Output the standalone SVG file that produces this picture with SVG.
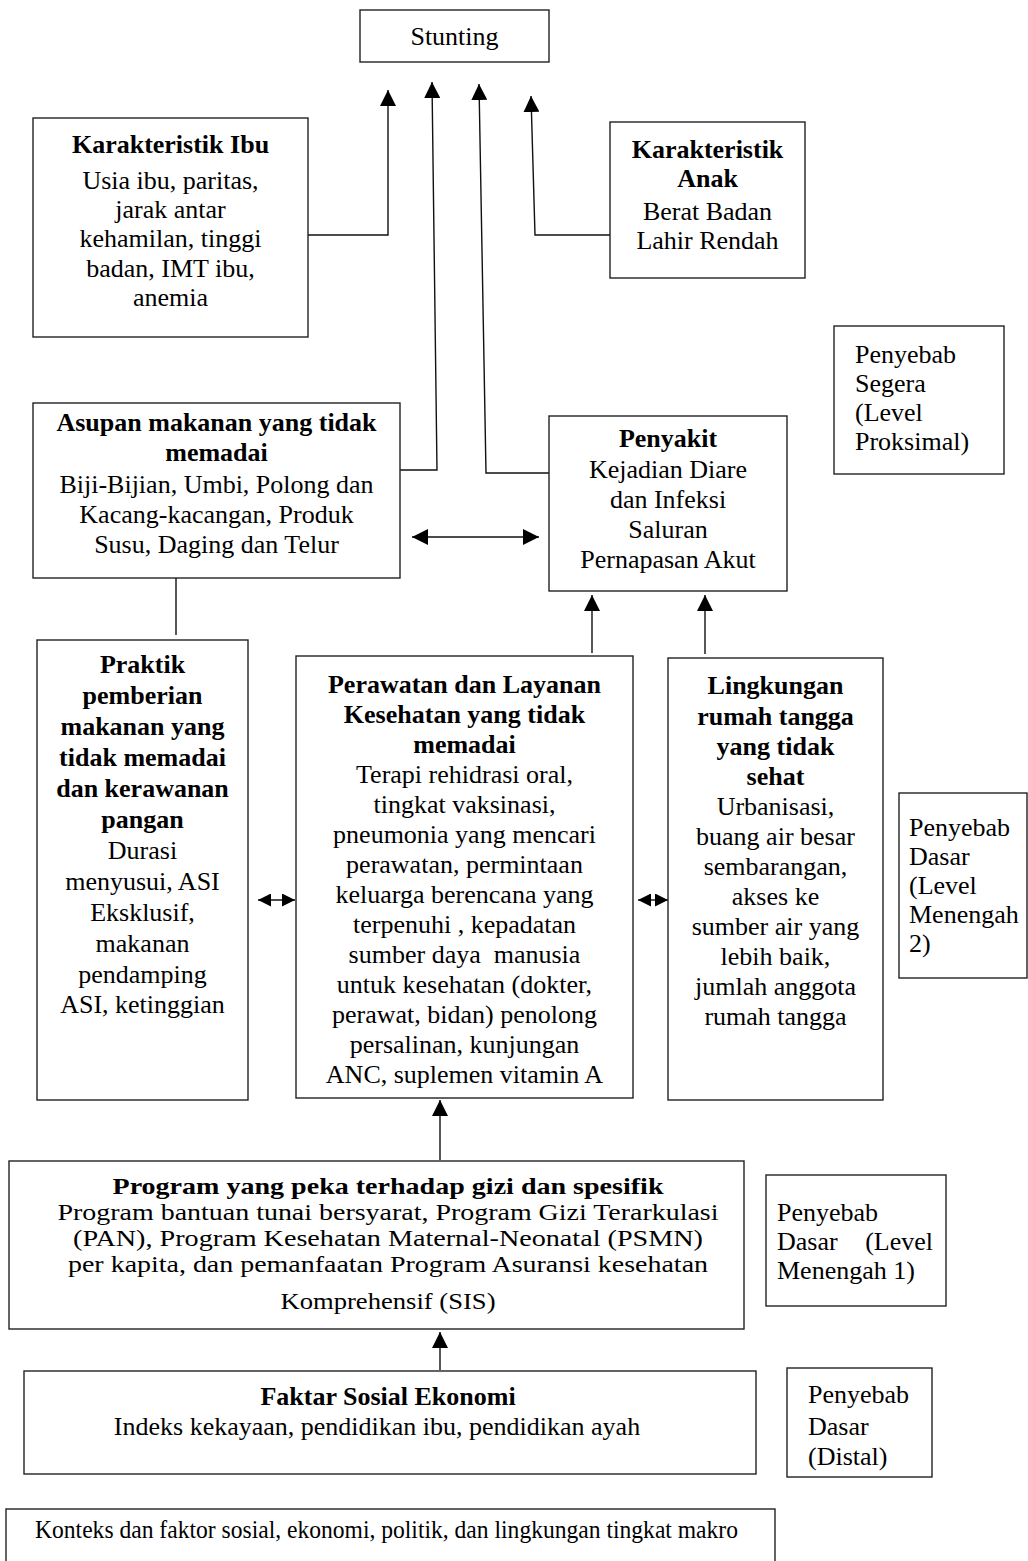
<svg xmlns="http://www.w3.org/2000/svg" width="1028" height="1561" viewBox="0 0 1028 1561">
<defs>
<marker id="ah" viewBox="0 0 16 16" refX="16" refY="8" markerWidth="16" markerHeight="16" markerUnits="userSpaceOnUse" orient="auto-start-reverse">
<path d="M0,0 L16,8 L0,16 z" fill="#000"/>
</marker>
<marker id="ahs" viewBox="0 0 13 13" refX="13" refY="6.5" markerWidth="13" markerHeight="13" markerUnits="userSpaceOnUse" orient="auto-start-reverse">
<path d="M0,0 L13,6.5 L0,13 z" fill="#000"/>
</marker>
<clipPath id="clipProg"><rect x="9" y="1161" width="735" height="153"/></clipPath>
</defs>
<style>
rect.box{fill:#fff;stroke:#222;stroke-width:1.4}
text{font-family:"Liberation Serif","Times New Roman",serif;font-size:26px;fill:#000}
.c{text-anchor:middle}
.b{font-weight:bold}
.sm{font-size:23px}
.conn{fill:none;stroke:#111;stroke-width:1.4}
</style>
<rect width="1028" height="1561" fill="#fff"/>

<g id="connectors">
<path class="conn" d="M308,235 H388 V90" marker-end="url(#ah)"/>
<path class="conn" d="M400,470 H437 L432,82" marker-end="url(#ah)"/>
<path class="conn" d="M549,473 H486 L479,84" marker-end="url(#ah)"/>
<path class="conn" d="M610,235 H535 L531,96" marker-end="url(#ah)"/>
<path class="conn" d="M412,537 H539" marker-start="url(#ah)" marker-end="url(#ah)"/>
<path class="conn" d="M176,635 V578"/>
<path class="conn" d="M592,653 V595" marker-end="url(#ah)"/>
<path class="conn" d="M705,654 V595" marker-end="url(#ah)"/>
<path class="conn" d="M258,900 H295" marker-start="url(#ahs)" marker-end="url(#ahs)"/>
<path class="conn" d="M638,900 H668" marker-start="url(#ahs)" marker-end="url(#ahs)"/>
<path class="conn" d="M440,1160 V1100" marker-end="url(#ah)"/>
<path class="conn" d="M440,1370 V1332" marker-end="url(#ah)"/>
</g>

<g id="stunting">
<rect class="box" x="360" y="10" width="189" height="52"/>
<text class="c" x="454.5" y="45">Stunting</text>
</g>

<g id="karakteristik-ibu">
<rect class="box" x="33" y="118" width="275" height="219"/>
<text class="c b" x="170.5" y="153">Karakteristik Ibu</text>
<text class="c" x="170.5" y="189">Usia ibu, paritas,</text>
<text class="c" x="170.5" y="218">jarak antar</text>
<text class="c" x="170.5" y="247">kehamilan, tinggi</text>
<text class="c" x="170.5" y="277">badan, IMT ibu,</text>
<text class="c" x="170.5" y="306">anemia</text>
</g>

<g id="karakteristik-anak">
<rect class="box" x="610" y="122" width="195" height="156"/>
<text class="c b" x="707.5" y="158">Karakteristik</text>
<text class="c b" x="707.5" y="187">Anak</text>
<text class="c" x="707.5" y="220">Berat Badan</text>
<text class="c" x="707.5" y="249">Lahir Rendah</text>
</g>

<g id="penyebab-segera">
<rect class="box" x="834" y="326" width="170" height="148"/>
<text x="855" y="363">Penyebab</text>
<text x="855" y="392">Segera</text>
<text x="855" y="421">(Level</text>
<text x="855" y="450">Proksimal)</text>
</g>

<g id="asupan">
<rect class="box" x="33" y="403" width="367" height="175"/>
<text class="c b" x="216.5" y="431">Asupan makanan yang tidak</text>
<text class="c b" x="216.5" y="461">memadai</text>
<text class="c" x="216.5" y="493">Biji-Bijian, Umbi, Polong dan</text>
<text class="c" x="216.5" y="523">Kacang-kacangan, Produk</text>
<text class="c" x="216.5" y="553">Susu, Daging dan Telur</text>
</g>

<g id="penyakit">
<rect class="box" x="549" y="416" width="238" height="175"/>
<text class="c b" x="668" y="447">Penyakit</text>
<text class="c" x="668" y="478">Kejadian Diare</text>
<text class="c" x="668" y="508">dan Infeksi</text>
<text class="c" x="668" y="538">Saluran</text>
<text class="c" x="668" y="568">Pernapasan Akut</text>
</g>

<g id="praktik">
<rect class="box" x="37" y="640" width="211" height="460"/>
<text class="c b" x="142.5" y="673">Praktik</text>
<text class="c b" x="142.5" y="704">pemberian</text>
<text class="c b" x="142.5" y="735">makanan yang</text>
<text class="c b" x="142.5" y="766">tidak memadai</text>
<text class="c b" x="142.5" y="797">dan kerawanan</text>
<text class="c b" x="142.5" y="828">pangan</text>
<text class="c" x="142.5" y="859">Durasi</text>
<text class="c" x="142.5" y="890">menyusui, ASI</text>
<text class="c" x="142.5" y="921">Eksklusif,</text>
<text class="c" x="142.5" y="952">makanan</text>
<text class="c" x="142.5" y="983">pendamping</text>
<text class="c" x="142.5" y="1013">ASI, ketinggian</text>
</g>

<g id="perawatan">
<rect class="box" x="296" y="656" width="337" height="442"/>
<text class="c b" x="464.5" y="693">Perawatan dan Layanan</text>
<text class="c b" x="464.5" y="723">Kesehatan yang tidak</text>
<text class="c b" x="464.5" y="753">memadai</text>
<text class="c" x="464.5" y="783">Terapi rehidrasi oral,</text>
<text class="c" x="464.5" y="813">tingkat vaksinasi,</text>
<text class="c" x="464.5" y="843">pneumonia yang mencari</text>
<text class="c" x="464.5" y="873">perawatan, permintaan</text>
<text class="c" x="464.5" y="903">keluarga berencana yang</text>
<text class="c" x="464.5" y="933">terpenuhi , kepadatan</text>
<text class="c" x="464.5" y="963" xml:space="preserve">sumber daya  manusia</text>
<text class="c" x="464.5" y="993">untuk kesehatan (dokter,</text>
<text class="c" x="464.5" y="1023">perawat, bidan) penolong</text>
<text class="c" x="464.5" y="1053">persalinan, kunjungan</text>
<text class="c" x="464.5" y="1083">ANC, suplemen vitamin A</text>
</g>

<g id="lingkungan">
<rect class="box" x="668" y="658" width="215" height="442"/>
<text class="c b" x="775.5" y="694">Lingkungan</text>
<text class="c b" x="775.5" y="725">rumah tangga</text>
<text class="c b" x="775.5" y="755">yang tidak</text>
<text class="c b" x="775.5" y="785">sehat</text>
<text class="c" x="775.5" y="815">Urbanisasi,</text>
<text class="c" x="775.5" y="845">buang air besar</text>
<text class="c" x="775.5" y="875">sembarangan,</text>
<text class="c" x="775.5" y="905">akses ke</text>
<text class="c" x="775.5" y="935">sumber air yang</text>
<text class="c" x="775.5" y="965">lebih baik,</text>
<text class="c" x="775.5" y="995">jumlah anggota</text>
<text class="c" x="775.5" y="1025">rumah tangga</text>
</g>

<g id="penyebab-menengah-2">
<rect class="box" x="899" y="793" width="128" height="185"/>
<text x="909" y="836">Penyebab</text>
<text x="909" y="865">Dasar</text>
<text x="909" y="894">(Level</text>
<text x="909" y="923">Menengah</text>
<text x="909" y="952">2)</text>
</g>

<g id="program">
<rect class="box" x="9" y="1161" width="735" height="168"/>
<g clip-path="url(#clipProg)">
<text class="c b sm" x="388" y="1194" textLength="551" lengthAdjust="spacingAndGlyphs">Program yang peka terhadap gizi dan spesifik</text>
<text class="c sm" x="388" y="1220" textLength="661" lengthAdjust="spacingAndGlyphs">Program bantuan tunai bersyarat, Program Gizi Terarkulasi</text>
<text class="c sm" x="388" y="1246" textLength="630" lengthAdjust="spacingAndGlyphs">(PAN), Program Kesehatan Maternal-Neonatal (PSMN)</text>
<text class="c sm" x="388" y="1272" textLength="640" lengthAdjust="spacingAndGlyphs">per kapita, dan pemanfaatan Program Asuransi kesehatan</text>
<text class="c sm" x="388" y="1309" textLength="215" lengthAdjust="spacingAndGlyphs">Komprehensif (SIS)</text>
</g>
</g>

<g id="penyebab-menengah-1">
<rect class="box" x="766" y="1175" width="180" height="131"/>
<text x="777" y="1221">Penyebab</text>
<text x="777" y="1250">Dasar<tspan x="933" text-anchor="end">(Level</tspan></text>
<text x="777" y="1279">Menengah 1)</text>
</g>

<g id="faktar">
<rect class="box" x="24" y="1371" width="732" height="103"/>
<text class="c b" x="388" y="1405">Faktar Sosial Ekonomi</text>
<text class="c" x="377" y="1435">Indeks kekayaan, pendidikan ibu, pendidikan ayah</text>
</g>

<g id="penyebab-distal">
<rect class="box" x="787" y="1368" width="145" height="109"/>
<text x="808" y="1403">Penyebab</text>
<text x="808" y="1435">Dasar</text>
<text x="808" y="1465">(Distal)</text>
</g>

<g id="konteks">
<rect class="box" x="6" y="1509" width="769" height="70"/>
<text x="35" y="1538" style="font-size:25px" textLength="703" lengthAdjust="spacingAndGlyphs">Konteks dan faktor sosial, ekonomi, politik, dan lingkungan tingkat makro</text>
</g>
</svg>
